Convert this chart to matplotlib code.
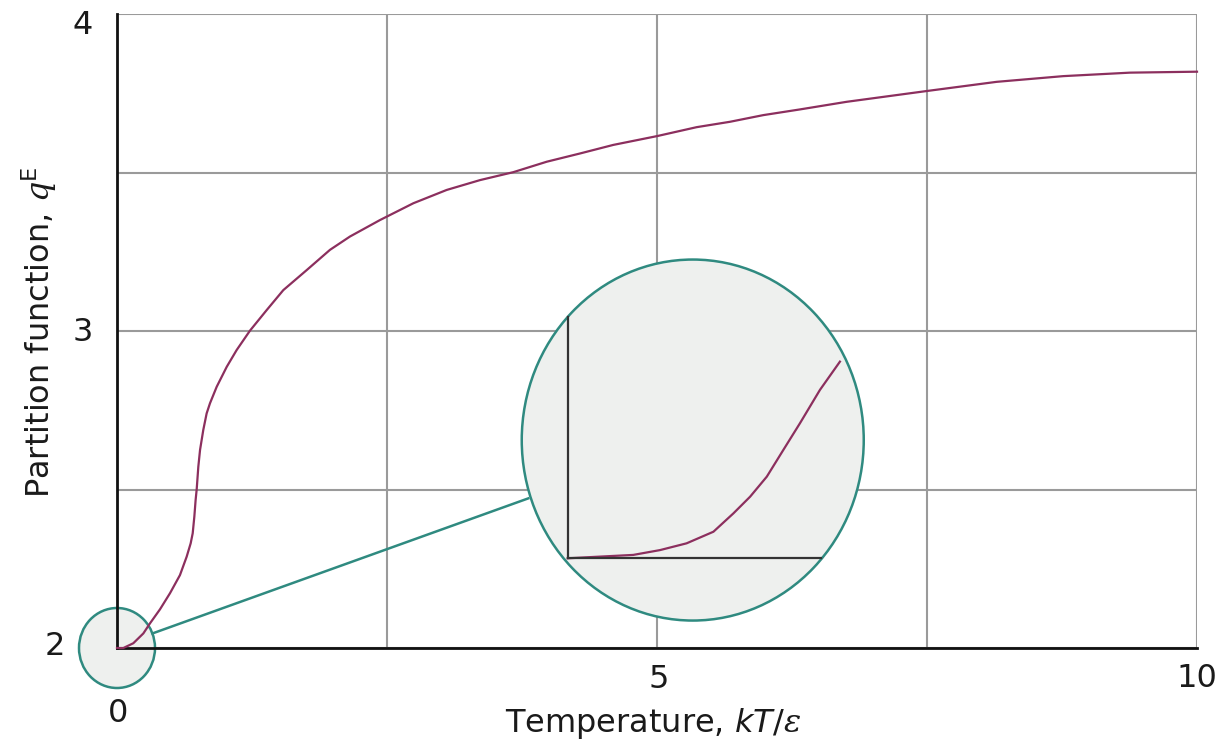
import matplotlib
matplotlib.use("Agg")
import matplotlib.pyplot as plt
from matplotlib.patches import Ellipse

# ---------------- data ----------------
temperature = [0.0, 0.059, 0.151, 0.244, 0.306, 0.398, 0.491, 0.583, 0.645, 0.682,
               0.701, 0.716, 0.728, 0.738, 0.753, 0.769, 0.799, 0.830, 0.861, 0.923,
               1.016, 1.108, 1.231, 1.386, 1.540, 1.756, 1.972, 2.157, 2.435, 2.744,
               3.053, 3.361, 3.669, 3.979, 4.287, 4.595, 5.003, 5.367, 5.676, 5.984,
               6.324, 6.756, 7.497, 8.145, 8.762, 9.380, 10.0]
q_E = [2.0, 2.0, 2.015, 2.046, 2.078, 2.122, 2.173, 2.230, 2.288, 2.330,
       2.362, 2.414, 2.467, 2.501, 2.572, 2.625, 2.688, 2.740, 2.772, 2.824,
       2.887, 2.940, 3.001, 3.066, 3.129, 3.192, 3.256, 3.298, 3.350, 3.403,
       3.445, 3.476, 3.501, 3.534, 3.560, 3.587, 3.615, 3.643, 3.660, 3.681,
       3.699, 3.723, 3.757, 3.786, 3.804, 3.815, 3.818]

# magnified low-temperature detail (inset, in its own normalised units)
inset_T = [0.0, 0.128, 0.259, 0.365, 0.470, 0.576, 0.655, 0.721, 0.787, 0.852,
           0.918, 0.997, 1.076]
inset_q = [0.0, 0.007, 0.014, 0.034, 0.062, 0.110, 0.186, 0.255, 0.338, 0.448,
           0.559, 0.697, 0.814]

xtick_values = [0, 5, 10]
xtick_labels = ["0", "5", "10"]
ytick_values = [2, 3, 4]
ytick_labels = ["2", "3", "4"]
x_grid = [0, 2.5, 5, 7.5, 10]
y_grid = [2, 2.5, 3, 3.5, 4]

# ---------------- style ----------------
plt.rcParams['font.family'] = ['DejaVu Sans']
plt.rcParams['mathtext.fontset'] = 'custom'
plt.rcParams['mathtext.rm'] = 'DejaVu Sans'
plt.rcParams['mathtext.it'] = 'DejaVu Sans:italic'
plt.rcParams['mathtext.cal'] = 'DejaVu Serif:italic'

CURVE = '#8c2f5e'
TEAL = '#2f8a80'
FILL = '#eef0ee'
GRID = '#9a9a9a'
TXT = '#1a1a1a'
FS = 23

W, H = 1221, 746
fig = plt.figure(figsize=(W / 100, H / 100), dpi=100)
ax = fig.add_axes([117 / W, 1 - 648 / H, 1080 / W, 634 / H])
ax.set_xlim(0, 10)
ax.set_ylim(2, 4)

ax.set_xticks(x_grid)
ax.set_yticks(y_grid)
ax.tick_params(length=0, labelbottom=False, labelleft=False)
ax.grid(True, color=GRID, lw=1.5)
ax.set_axisbelow(True)
for s in ['top', 'right']:
    ax.spines[s].set_visible(False)
for s in ['left', 'bottom']:
    ax.spines[s].set_linewidth(2)
    ax.spines[s].set_color('#111111')
    ax.spines[s].set_zorder(3)

# main curve
ax.plot(temperature, q_E, color=CURVE, lw=1.6, zorder=4, clip_on=False,
        solid_joinstyle='round')

# magnifier circles (pixel sizes converted to data units)
px_x = 10 / 1080
px_y = 2 / 634
small = Ellipse((0, 2), 2 * 38 * px_x, 2 * 40 * px_y, facecolor=FILL,
                edgecolor=TEAL, lw=1.8, zorder=1.5, clip_on=False)
ax.add_patch(small)
big_cx, big_cy = 5.331, 2.656
big = Ellipse((big_cx, big_cy), 342 * px_x, 361 * px_y, facecolor=FILL,
              edgecolor=TEAL, lw=1.8, zorder=3.5, clip_on=False)
ax.add_patch(big)
ax.plot([0.329, 3.808], [2.046, 2.472], color=TEAL, lw=1.8, zorder=3.4)

# inset axes inside the big circle
iax = fig.add_axes([567.7 / W, 1 - 558.3 / H, 253 / W, 241.6 / H])
iax.set_xlim(0, 1)
iax.set_ylim(0, 1)
iax.patch.set_visible(False)
iax.set_xticks([])
iax.set_yticks([])
for s in ['top', 'right']:
    iax.spines[s].set_visible(False)
for s in ['left', 'bottom']:
    iax.spines[s].set_linewidth(1.6)
    iax.spines[s].set_color('#333333')
iax.plot(inset_T, inset_q, color=CURVE, lw=1.6, clip_on=False,
         solid_joinstyle='round')

# tick labels (manually offset, as in the reference)
x_offsets = [(1, -47.5), (1, -23), (0, -22)]
for v, lab, off in zip(xtick_values, xtick_labels, x_offsets):
    ax.annotate(lab, xy=(v, 2), xycoords='data', textcoords='offset points',
                xytext=off, ha='center', va='center', fontsize=FS,
                color=TXT, annotation_clip=False)
y_offsets = [(-44.6, 1.0), (-24.5, -1.4), (-25, -8.6)]
for v, lab, off in zip(ytick_values, ytick_labels, y_offsets):
    ax.annotate(lab, xy=(0, v), xycoords='data', textcoords='offset points',
                xytext=off, ha='center', va='center', fontsize=FS,
                color=TXT, annotation_clip=False)

# axis labels
fig.text(653 / W, 1 - 732 / H, r"Temperature, $kT/\mathcal{ε}$", ha='center',
         va='baseline', fontsize=FS, color=TXT)
fig.text(50 / W, 1 - 332 / H, r"Partition function, $\mathcal{q}^{\mathrm{E}}$",
         ha='center', va='baseline', rotation=90, rotation_mode='anchor',
         fontsize=FS, color=TXT)

fig.savefig('out.png', dpi=100)
